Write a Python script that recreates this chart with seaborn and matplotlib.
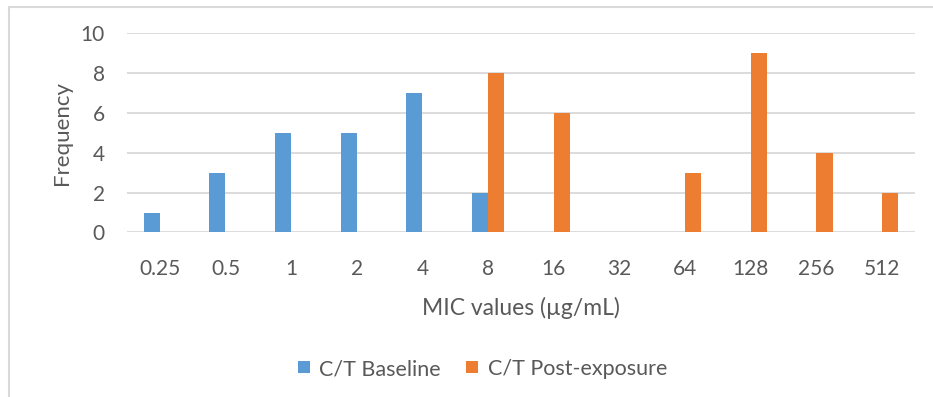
import matplotlib
matplotlib.use("Agg")
import matplotlib.pyplot as plt
import matplotlib.patches as mpatches
from matplotlib.lines import Line2D
import pandas as pd
import seaborn as sns

# MIC distribution of C/T isolates
mic_labels = ["0.25", "0.5", "1", "2", "4", "8", "16", "32", "64", "128", "256", "512"]
baseline = [1, 3, 5, 5, 7, 2, 0, 0, 0, 0, 0, 0]
post_exposure = [0, 0, 0, 0, 0, 8, 6, 0, 3, 9, 4, 2]
series_names = ["C/T Baseline", "C/T Post-exposure"]
colors = ["#5B9BD5", "#ED7D31"]

df = pd.DataFrame({
    "MIC": mic_labels * 2,
    "Frequency": baseline + post_exposure,
    "Series": [series_names[0]] * len(mic_labels) + [series_names[1]] * len(mic_labels),
})

sns.set_theme(style="white")
plt.rcParams["font.family"] = ["Lato", "DejaVu Sans"]
text_color = "#595959"
grid_color = "#D9D9D9"

fig = plt.figure(figsize=(9.33, 3.97), dpi=100)
ax = fig.add_axes([0.1361, 0.4144, 0.9807 - 0.1361, 0.9169 - 0.4144])

sns.barplot(data=df, x="MIC", y="Frequency", hue="Series", order=mic_labels,
            hue_order=series_names, palette=colors, width=0.488,
            linewidth=0, saturation=1, ax=ax, legend=False)

ax.set_ylim(0, 10)
ax.set_yticks(range(0, 11, 2))
ax.set_xlim(-0.5, len(mic_labels) - 0.5)
ax.yaxis.grid(True, color=grid_color, linewidth=1.3)
ax.set_axisbelow(True)
for s in ax.spines.values():
    s.set_visible(False)
ax.tick_params(axis="both", length=0, labelsize=15, colors=text_color)
ax.tick_params(axis="x", pad=19)
ax.tick_params(axis="y", pad=16)
ax.set_xlabel("MIC values (µg/mL)", fontsize=16.5, color=text_color, labelpad=13)
ax.set_ylabel("Frequency", fontsize=16, color=text_color, labelpad=6)

handles = [Line2D([], [], linestyle="none", marker="s", markersize=9,
                  markerfacecolor=c, markeredgewidth=0, label=n)
           for c, n in zip(colors, series_names)]
fig.legend(handles=handles, loc="center", bbox_to_anchor=(482 / 933, 1 - 369 / 397),
           ncol=2, frameon=False, fontsize=15.5, labelcolor=text_color,
           handlelength=0.6, handletextpad=0.4, columnspacing=1.2)

# chart area border
fig.patches.append(mpatches.Rectangle((8.5 / 933, -0.05), 1.1, 1 - 6.5 / 397 + 0.05,
                                      transform=fig.transFigure, fill=False,
                                      edgecolor=grid_color, linewidth=1.5))

fig.savefig("out.png", dpi=100)
